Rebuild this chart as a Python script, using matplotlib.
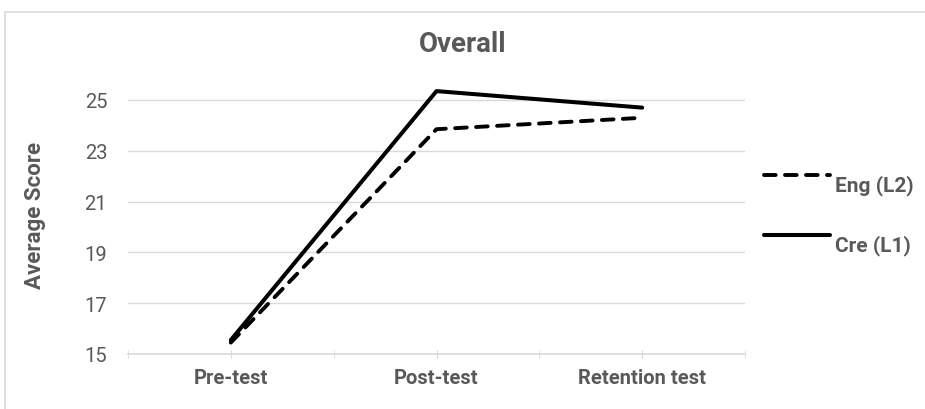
import matplotlib.pyplot as plt
from matplotlib.patches import Rectangle
from matplotlib.transforms import ScaledTranslation

categories = ['Pre-test', 'Post-test', 'Retention test']
eng_l2 = [15.45, 23.85, 24.3]
cre_l1 = [15.55, 25.35, 24.7]
yticks = [15, 17, 19, 21, 23, 25]

grey = '#595959'
light = '#d9d9d9'
plt.rcParams['font.family'] = ['Roboto', 'DejaVu Sans']

fig = plt.figure(figsize=(9.25, 4.1), dpi=100)
fig.patches.append(Rectangle((5 / 925, -0.01), 1.0, 1 - 13 / 410 + 0.01,
                             transform=fig.transFigure, fill=False,
                             edgecolor=light, linewidth=1.2))
ax = fig.add_axes([128 / 925, 55 / 410, 617 / 925, (355 - 75.6) / 410])

x = list(range(len(categories)))
ax.plot(x, eng_l2, color='black', linewidth=2.8, linestyle=(0, (3.0, 2.4)),
        dash_capstyle='round', solid_capstyle='round', label='Eng (L2)')
ax.plot(x, cre_l1, color='black', linewidth=2.9, solid_capstyle='round',
        label='Cre (L1)')

ax.set_xlim(-0.5, 2.5)
ax.set_ylim(15, 26)
ax.set_yticks(yticks)
ax.set_xticks(x)
ax.set_xticklabels(categories, fontweight='bold', fontsize=14.5, color=grey)
ax.set_xticks([-0.5, 0.5, 1.5, 2.5], minor=True)
ax.tick_params(axis='x', which='both', length=6, color=light, direction='inout', pad=7)
ax.tick_params(axis='y', length=0, labelsize=14.5, labelcolor=grey, pad=15)
ax.grid(axis='y', color=light, linewidth=1)
ax.set_axisbelow(True)
for s in ['top', 'right', 'left']:
    ax.spines[s].set_visible(False)
ax.spines['bottom'].set_color(light)
ax.spines['bottom'].set_linewidth(1.2)

ax.set_ylabel('Average Score', fontweight='bold', fontsize=16, color=grey)
ax.yaxis.set_label_coords(-82 / 617, 0.5)
fig.text(0.5, 1 - 44 / 410, 'Overall', ha='center', va='center',
         fontweight='bold', fontsize=20, color=grey)

leg = ax.legend(loc='center left', bbox_to_anchor=(1.0, 0.527), frameon=False,
                handlelength=3.2, labelspacing=1.9, handletextpad=0.22,
                prop={'weight': 'bold', 'size': 15})
shift = ScaledTranslation(0, -0.08, fig.dpi_scale_trans)
for t in leg.get_texts():
    t.set_color(grey)
    t.set_transform(t.get_transform() + shift)

fig.savefig('out.png', dpi=100)
